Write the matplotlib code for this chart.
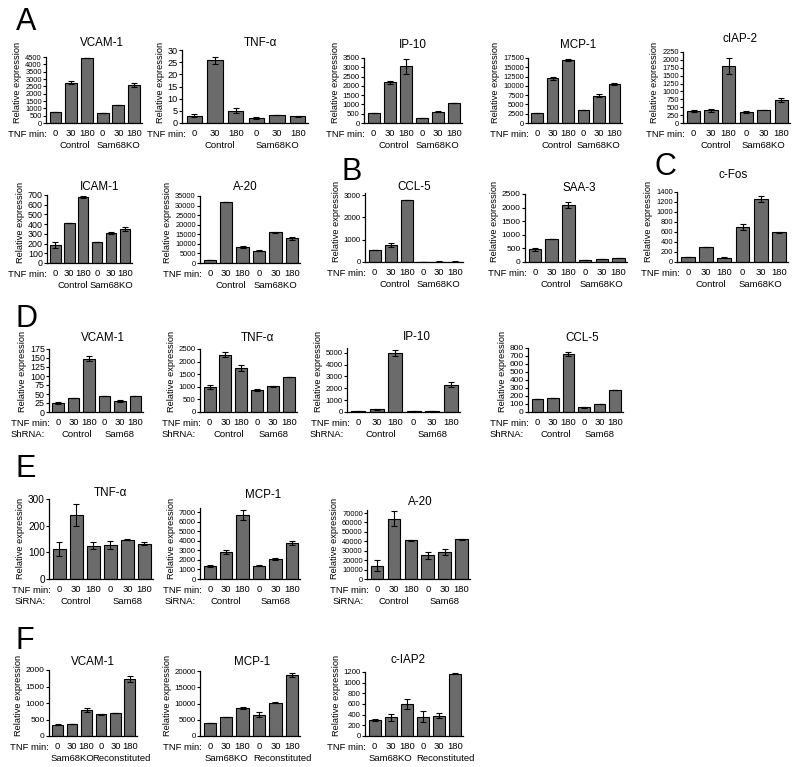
import matplotlib
matplotlib.use("Agg")
import matplotlib.pyplot as plt
import numpy as np

plt.rcParams['font.family'] = ['Liberation Sans', 'DejaVu Sans']

W, H = 800, 767

# ---------------- data ----------------
tnf_min = ['0', '30', '180', '0', '30', '180']

# A
a_vcam1 = [750, 2750, 4400, 650, 1200, 2600]
a_vcam1_err = [0, 80, 0, 0, 0, 130]
a_tnfa = [3.0, 25.7, 5.0, 2.0, 3.2, 2.8]
a_tnfa_err = [0.5, 1.5, 1.0, 0.3, 0, 0.2]
a_ip10 = [520, 2200, 3050, 280, 600, 1080]
a_ip10_err = [0, 80, 400, 0, 30, 0]
a_mcp1 = [2600, 12000, 17000, 3600, 7300, 10400]
a_mcp1_err = [0, 400, 200, 0, 400, 300]
a_ciap2 = [370, 400, 1800, 350, 420, 730]
a_ciap2_err = [30, 40, 250, 20, 0, 50]
a_icam1 = [185, 415, 675, 220, 310, 350]
a_icam1_err = [35, 0, 10, 0, 10, 20]
a_a20 = [1500, 32000, 8500, 6500, 16000, 12800]
a_a20_err = [0, 0, 500, 300, 200, 700]
# B
b_ccl5 = [520, 760, 2780, 15, 20, 20]
b_ccl5_err = [0, 80, 0, 0, 10, 5]
b_saa3 = [460, 830, 2100, 80, 110, 160]
b_saa3_err = [60, 0, 100, 0, 0, 0]
# C
c_fos = [100, 290, 80, 690, 1260, 590]
c_fos_err = [0, 0, 10, 60, 60, 10]
# D
d_vcam1 = [25, 38, 148, 44, 30, 45]
d_vcam1_err = [4, 0, 7, 0, 2, 0]
d_tnfa = [1000, 2270, 1750, 880, 1030, 1390]
d_tnfa_err = [70, 100, 130, 50, 20, 10]
d_ip10 = [90, 250, 4950, 80, 60, 2300]
d_ip10_err = [0, 40, 250, 0, 0, 200]
d_ccl5 = [160, 175, 725, 60, 100, 275]
d_ccl5_err = [0, 5, 30, 5, 0, 5]
# E
e_tnfa = [113, 240, 125, 128, 148, 133]
e_tnfa_err = [27, 40, 12, 15, 2, 7]
e_mcp1 = [1400, 2850, 6700, 1400, 2100, 3800]
e_mcp1_err = [100, 200, 550, 50, 150, 200]
e_a20 = [14000, 64000, 41000, 25000, 28500, 42000]
e_a20_err = [6000, 8000, 800, 4000, 3000, 500]
# F
f_vcam1 = [340, 370, 790, 660, 690, 1730]
f_vcam1_err = [20, 0, 70, 10, 0, 80]
f_mcp1 = [4000, 5700, 8500, 6600, 10300, 18800]
f_mcp1_err = [0, 0, 300, 700, 200, 700]
f_ciap2 = [300, 350, 600, 360, 380, 1170]
f_ciap2_err = [10, 60, 100, 100, 50, 15]

grp_ko = ['Control', 'Sam68KO']
grp_sh = ['Control', 'Sam68']
grp_rec = ['Sam68KO', 'Reconstituted']

# ---------------- layout ----------------
# (title, values, errs, ymax, ystep, tickmax, left, right, top, bottom,
#  title_xfrac, title_y, groups, group_x, row2label, ytick_size)
panels = [
    ('VCAM-1', a_vcam1, a_vcam1_err, 4500, 500, 4500, 46, 142, 57, 123, 0.58, 43, grp_ko, (1.25, 4.0), None, 5.4),
    ('TNF-\u03b1', a_tnfa, a_tnfa_err, 30, 5, 30, 182, 308, 50, 123, 0.62, 43, grp_ko, (1.25, 4.0), None, 6.6),
    ('IP-10', a_ip10, a_ip10_err, 3500, 500, 3500, 364, 462, 58, 123, 0.5, 45, grp_ko, (1.25, 4.0), None, 5.6),
    ('MCP-1', a_mcp1, a_mcp1_err, 17500, 2500, 17500, 528, 622, 58, 123, 0.53, 45, grp_ko, (1.25, 4.0), None, 5.4),
    ('cIAP-2', a_ciap2, a_ciap2_err, 2250, 250, 2250, 683, 790, 52, 123, 0.53, 39, grp_ko, (1.25, 4.0), None, 5.4),
    ('ICAM-1', a_icam1, a_icam1_err, 700, 100, 700, 47, 132, 195, 263, 0.62, 187, grp_ko, (1.25, 4.0), None, 6.4),
    ('A-20', a_a20, a_a20_err, 35000, 5000, 35000, 200, 300, 196, 263, 0.45, 187, grp_ko, (1.25, 4.0), None, 5.4),
    ('CCL-5', b_ccl5, b_ccl5_err, 3100, 1000, 3000, 365, 463, 193, 262, 0.5, 187, grp_ko, (1.25, 4.0), None, 5.6),
    ('SAA-3', b_saa3, b_saa3_err, 2500, 500, 2500, 525, 627, 194, 262, 0.53, 188, grp_ko, (1.25, 4.0), None, 6.0),
    ('c-Fos', c_fos, c_fos_err, 1400, 200, 1400, 677, 788, 192, 262, 0.51, 175, grp_ko, (1.25, 4.0), None, 5.4),
    ('VCAM-1', d_vcam1, d_vcam1_err, 175, 25, 175, 49, 143, 349, 412, 0.57, 338, grp_sh, (1.2, 4.0), 'ShRNA:', 6.4),
    ('TNF-\u03b1', d_tnfa, d_tnfa_err, 2500, 500, 2500, 200, 297, 349, 412, 0.59, 338, grp_sh, (1.2, 4.0), 'ShRNA:', 5.6),
    ('IP-10', d_ip10, d_ip10_err, 5400, 1000, 5000, 347, 460, 348, 412, 0.62, 337, grp_sh, (1.2, 4.0), 'ShRNA:', 5.6),
    ('CCL-5', d_ccl5, d_ccl5_err, 800, 100, 800, 528, 623, 348, 412, 0.57, 338, grp_sh, (1.2, 4.0), 'ShRNA:', 6.0),
    ('TNF-\u03b1', e_tnfa, e_tnfa_err, 300, 100, 300, 49, 153, 499, 579, 0.59, 493, grp_sh, (1.0, 4.0), 'SiRNA:', 7.2),
    ('MCP-1', e_mcp1, e_mcp1_err, 7440, 1000, 7000, 200, 300, 508, 579, 0.63, 495, grp_sh, (1.0, 4.0), 'SiRNA:', 5.6),
    ('A-20', e_a20, e_a20_err, 73200, 10000, 70000, 367, 470, 510, 579, 0.52, 502, grp_sh, (1.0, 4.0), 'SiRNA:', 5.4),
    ('VCAM-1', f_vcam1, f_vcam1_err, 2000, 500, 2000, 49, 137, 670, 736, 0.5, 662, grp_rec, (1.0, 4.4), None, 6.0),
    ('MCP-1', f_mcp1, f_mcp1_err, 20000, 5000, 20000, 200, 300, 671, 736, 0.52, 662, grp_rec, (1.0, 4.4), None, 5.7),
    ('c-IAP2', f_ciap2, f_ciap2_err, 1200, 200, 1200, 365, 463, 672, 736, 0.44, 660, grp_rec, (1.0, 4.4), None, 5.6),
]

letters = [('A', 16, 7), ('B', 342, 157), ('C', 655, 152), ('D', 16, 304), ('E', 16, 454), ('F', 16, 626)]

fig = plt.figure(figsize=(W / 100, H / 100), dpi=100)

bar_color = '#6b6b6b'

for (title, vals, errs, ymax, ystep, tmax, l, r, t, b, txf, ty, groups, gx, row2, ysz) in panels:
    ax = fig.add_axes([l / W, 1 - b / H, (r - l) / W, (b - t) / H])
    x = np.arange(len(vals))
    ax.bar(x, vals, width=0.75, color=bar_color, edgecolor='black', linewidth=0.8, zorder=2)
    ax.errorbar(x, vals, yerr=errs, fmt='none', ecolor='black', elinewidth=0.8,
                capsize=2.5, capthick=0.8, zorder=3)
    ax.set_xlim(-0.6, 5.5)
    ax.set_ylim(0, ymax)
    yt = np.arange(0, tmax + ystep / 2, ystep)
    ax.set_yticks(yt)
    ax.set_yticklabels([str(int(v)) for v in yt])
    ax.set_xticks(x)
    ax.set_xticklabels(tnf_min)
    for s in ['top', 'right']:
        ax.spines[s].set_visible(False)
    for s in ['left', 'bottom']:
        ax.spines[s].set_linewidth(0.9)
    ax.tick_params(axis='y', length=2.5, width=0.8, pad=0.5, labelsize=ysz)
    ax.tick_params(axis='x', length=0, pad=4, labelsize=6.8)
    ax.set_ylabel('Relative expression', fontsize=6.7, labelpad=2, loc='bottom')
    fig.text((l + txf * (r - l)) / W, 1 - ty / H, title, fontsize=8.4, ha='center', va='center')
    tr = ax.get_xaxis_transform()
    ax.annotate('TNF min:', xy=(0, 0), xycoords=tr, xytext=(-6, -8.2), textcoords='offset points',
                ha='right', va='center', fontsize=6.8)
    ax.annotate(groups[0], xy=(gx[0], 0), xycoords=tr, xytext=(0, -16.2), textcoords='offset points',
                ha='center', va='center', fontsize=6.8)
    ax.annotate(groups[1], xy=(gx[1], 0), xycoords=tr, xytext=(0, -16.2), textcoords='offset points',
                ha='center', va='center', fontsize=6.8)
    if row2:
        ax.annotate(row2, xy=(0, 0), xycoords=tr, xytext=(-10, -16.2), textcoords='offset points',
                    ha='right', va='center', fontsize=6.8)

for letter, lx, ly in letters:
    fig.text(lx / W, 1 - ly / H, letter, fontsize=22, ha='left', va='top')

fig.savefig('out.png', dpi=100)
